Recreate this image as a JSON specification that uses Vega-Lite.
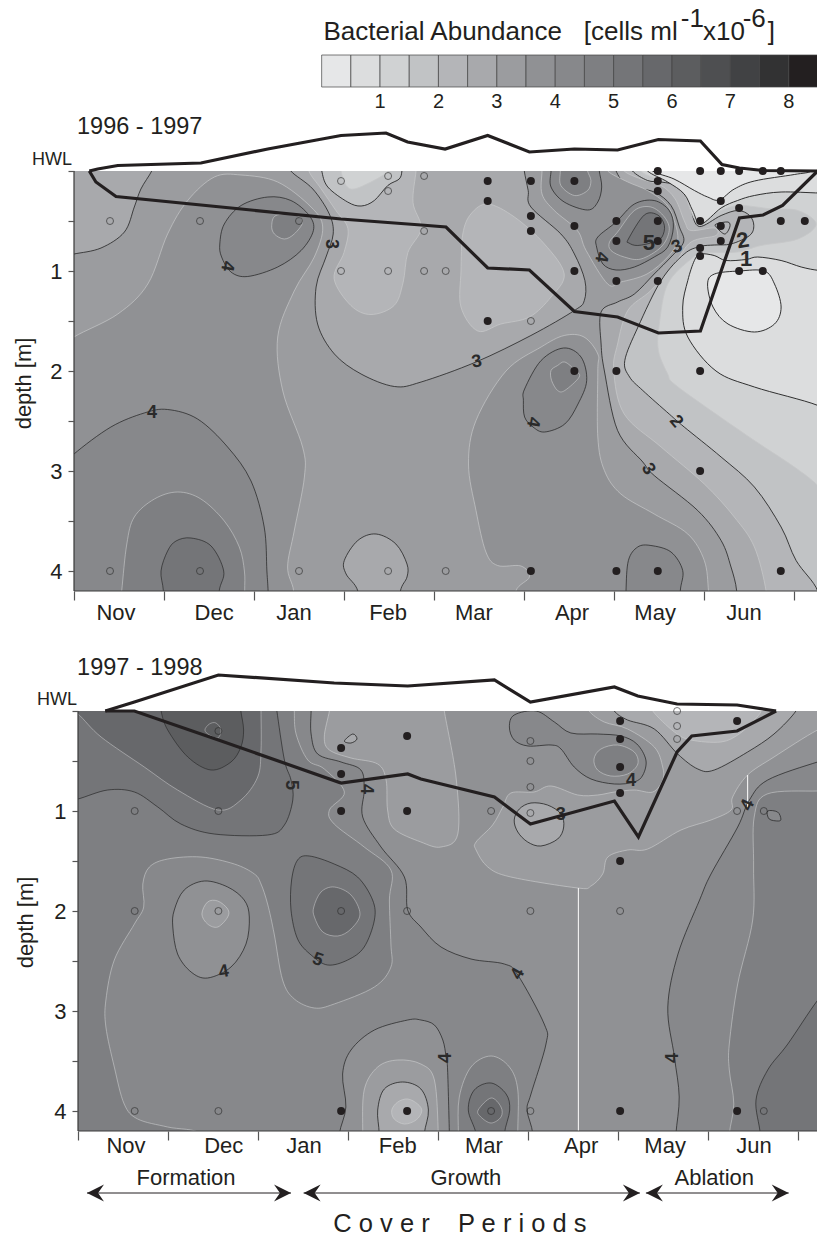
{
"$schema":"https://vega.github.io/schema/vega-lite/v6.json",
"padding":{"left":12,"top":0,"right":0,"bottom":0},
"config":{"view":{"stroke":null},"font":"Liberation Sans","concat":{"spacing":60}},
"bounds":"flush",
"spacing":60,
"datasets":{
"regions":[
{"g":"bg","band":3,"contour":3.5},{"g":"A","band":3.5,"contour":3.5},{"g":"B","band":2.5,"contour":3},{"g":"C","band":4,"contour":4},{"g":"D","band":4.5,"contour":4.5},{"g":"E","band":5,"contour":5},{"g":"F","band":4,"contour":4},{"g":"G","band":4.5,"contour":4.5},{"g":"I","band":2.5,"contour":3},{"g":"L","band":2,"contour":2.5},{"g":"T2","band":1.5,"contour":2},{"g":"T1","band":1,"contour":1.5},{"g":"RL","band":2,"contour":2.5},{"g":"M","band":3.5,"contour":3.5},{"g":"M4","band":4,"contour":4},{"g":"M45","band":4.5,"contour":4.5},{"g":"B4","band":4,"contour":4},{"g":"Fe","band":2.5,"contour":3},{"g":"R3","band":2.5,"contour":3},{"g":"R25","band":2,"contour":2.5},{"g":"R2","band":1.5,"contour":2},{"g":"R15","band":1,"contour":1.5},{"g":"RB","band":0.5,"contour":1},{"g":"RA","band":0,"contour":1},{"g":"R1","band":0.5,"contour":1},{"g":"R05","band":0,"contour":1},{"g":"S","band":2,"contour":2},{"g":"C35","band":3.5,"contour":3.5},{"g":"C4","band":4,"contour":4},{"g":"AT","band":4,"contour":4},{"g":"AT5","band":4.5,"contour":4.5},{"g":"C45","band":4.5,"contour":4.5},{"g":"C5","band":5,"contour":5},
{"g":"bg2","band":4.5,"contour":4.5},{"g":"b","band":5,"contour":5},{"g":"c","band":5.5,"contour":5.5},{"g":"d","band":6,"contour":6},{"g":"e","band":6,"contour":6.5},{"g":"Q1","band":4,"contour":4.5},{"g":"J","band":5,"contour":5},{"g":"J2","band":5.5,"contour":5.5},{"g":"Dc","band":3.5,"contour":4},{"g":"Dc2","band":3,"contour":3.5},{"g":"Q2","band":3.5,"contour":4},{"g":"Q3","band":3,"contour":3.5},{"g":"Q4","band":3,"contour":3.5},{"g":"L4","band":4,"contour":4},{"g":"L45","band":4.5,"contour":4.5},{"g":"t1","band":2.5,"contour":3},{"g":"t2","band":4,"contour":4},{"g":"lp3","band":2.5,"contour":3},{"g":"TR3","band":2.5,"contour":3},{"g":"TR2","band":2,"contour":2.5},{"g":"R5","band":5,"contour":5},{"g":"Fb4","band":3.5,"contour":4},{"g":"Fb35","band":3,"contour":3.5},{"g":"Fb3","band":2.5,"contour":3},{"g":"Fb25","band":2,"contour":2.5},{"g":"Mr45","band":4.5,"contour":4.5},{"g":"Mr5","band":5,"contour":5},{"g":"Mr55","band":5.5,"contour":5.5}
],
"p1":[
{"g":"bg","day":-8,"depth":-1},{"g":"bg","day":258,"depth":-1},{"g":"bg","day":258,"depth":5},{"g":"bg","day":-8,"depth":5},
{"g":"A","day":-5,"depth":1.8},{"g":"A","day":0,"depth":1.66},{"g":"A","day":14.6,"depth":1.43},{"g":"A","day":24.6,"depth":1.13},{"g":"A","day":31.2,"depth":0.63},{"g":"A","day":37.9,"depth":0.295},{"g":"A","day":46.8,"depth":0.06},{"g":"A","day":55.7,"depth":0.04},{"g":"A","day":67.9,"depth":0.11},{"g":"A","day":79,"depth":0.36},{"g":"A","day":82.9,"depth":0.56},{"g":"A","day":80.1,"depth":0.86},{"g":"A","day":73.4,"depth":1.2},{"g":"A","day":67.9,"depth":1.66},{"g":"A","day":69.6,"depth":2.2},{"g":"A","day":76.2,"depth":2.76},{"g":"A","day":76.8,"depth":3.06},{"g":"A","day":73.4,"depth":3.6},{"g":"A","day":71.2,"depth":3.96},{"g":"A","day":73.2,"depth":4.2},{"g":"A","day":73,"depth":4.5},{"g":"A","day":-5,"depth":4.5},
{"g":"B","day":0,"depth":0.83},{"g":"B","day":9,"depth":0.77},{"g":"B","day":16.8,"depth":0.61},{"g":"B","day":20.1,"depth":0.36},{"g":"B","day":22.3,"depth":0.18},{"g":"B","day":25.9,"depth":0},{"g":"B","day":26.8,"depth":-0.1},{"g":"B","day":-5,"depth":-0.1},{"g":"B","day":-5,"depth":0.86},
{"g":"C","day":0,"depth":2.83},{"g":"C","day":12.3,"depth":2.56},{"g":"C","day":23.4,"depth":2.42},{"g":"C","day":31.2,"depth":2.385},{"g":"C","day":41.2,"depth":2.48},{"g":"C","day":51.2,"depth":2.76},{"g":"C","day":59,"depth":3.1},{"g":"C","day":63.4,"depth":3.56},{"g":"C","day":64.3,"depth":4},{"g":"C","day":64.7,"depth":4.2},{"g":"C","day":65,"depth":4.5},{"g":"C","day":-5,"depth":4.5},{"g":"C","day":-5,"depth":3},
{"g":"D","day":15.9,"depth":4.2},{"g":"D","day":17.6,"depth":3.73},{"g":"D","day":20.1,"depth":3.46},{"g":"D","day":26.8,"depth":3.28},{"g":"D","day":34.6,"depth":3.21},{"g":"D","day":42.3,"depth":3.28},{"g":"D","day":50.1,"depth":3.5},{"g":"D","day":55.1,"depth":3.76},{"g":"D","day":56.8,"depth":4},{"g":"D","day":56.9,"depth":4.2},{"g":"D","day":57,"depth":4.5},{"g":"D","day":15,"depth":4.5},
{"g":"E","day":29.8,"depth":4.2},{"g":"E","day":29,"depth":4},{"g":"E","day":31.2,"depth":3.8},{"g":"E","day":34,"depth":3.7},{"g":"E","day":39,"depth":3.67},{"g":"E","day":45.7,"depth":3.75},{"g":"E","day":49.9,"depth":4},{"g":"E","day":48.4,"depth":4.2},{"g":"E","day":48,"depth":4.5},{"g":"E","day":30,"depth":4.5},
{"g":"F","day":48.6,"depth":0.73},{"g":"F","day":50.1,"depth":0.53},{"g":"F","day":55.7,"depth":0.345},{"g":"F","day":64.6,"depth":0.26},{"g":"F","day":72.3,"depth":0.295},{"g":"F","day":78.4,"depth":0.445},{"g":"F","day":79.8,"depth":0.595},{"g":"F","day":75.7,"depth":0.795},{"g":"F","day":67.9,"depth":0.96},{"g":"F","day":57.9,"depth":1.055},{"g":"F","day":52.3,"depth":1.01},{"g":"F","day":49.2,"depth":0.86},
{"g":"G","day":65.9,"depth":0.545},{"g":"G","day":67.3,"depth":0.445},{"g":"G","day":73.4,"depth":0.435},{"g":"G","day":76.2,"depth":0.51},{"g":"G","day":73.4,"depth":0.63},{"g":"G","day":70.1,"depth":0.68},{"g":"G","day":66.8,"depth":0.63},
{"g":"I","day":72.3,"depth":0},{"g":"I","day":72.3,"depth":-0.1},{"g":"I","day":150.1,"depth":-0.1},{"g":"I","day":150.1,"depth":0},{"g":"I","day":151.4,"depth":0.195},{"g":"I","day":152.3,"depth":0.36},{"g":"I","day":162.3,"depth":0.63},{"g":"I","day":166.8,"depth":0.83},{"g":"I","day":170.3,"depth":1.095},{"g":"I","day":170.1,"depth":1.295},{"g":"I","day":166.8,"depth":1.395},{"g":"I","day":152.3,"depth":1.645},{"g":"I","day":134,"depth":1.91},{"g":"I","day":115.7,"depth":2.11},{"g":"I","day":106.8,"depth":2.155},{"g":"I","day":95.7,"depth":2.03},{"g":"I","day":86.8,"depth":1.83},{"g":"I","day":81.2,"depth":1.53},{"g":"I","day":80.7,"depth":1.16},{"g":"I","day":84,"depth":0.86},{"g":"I","day":86.4,"depth":0.63},{"g":"I","day":85.1,"depth":0.43},{"g":"I","day":79.6,"depth":0.18},
{"g":"L","day":78.3,"depth":0},{"g":"L","day":82.3,"depth":0.175},{"g":"L","day":87.3,"depth":0.395},{"g":"L","day":91.3,"depth":0.575},{"g":"L","day":90,"depth":0.815},{"g":"L","day":86.7,"depth":1.075},{"g":"L","day":92.3,"depth":1.345},{"g":"L","day":99,"depth":1.435},{"g":"L","day":106.7,"depth":1.345},{"g":"L","day":109.7,"depth":1.115},{"g":"L","day":111.3,"depth":0.815},{"g":"L","day":115.7,"depth":0.575},{"g":"L","day":113,"depth":0.315},{"g":"L","day":114,"depth":0},{"g":"L","day":114,"depth":-0.15},{"g":"L","day":78.3,"depth":-0.15},
{"g":"T2","day":82.6,"depth":0},{"g":"T2","day":84.6,"depth":0.16},{"g":"T2","day":91.2,"depth":0.31},{"g":"T2","day":95.7,"depth":0.35},{"g":"T2","day":100.1,"depth":0.295},{"g":"T2","day":104.6,"depth":0.145},{"g":"T2","day":108.4,"depth":0.08},{"g":"T2","day":109.3,"depth":0},{"g":"T2","day":109.3,"depth":-0.1},{"g":"T2","day":82.6,"depth":-0.1},
{"g":"T1","day":89,"depth":0},{"g":"T1","day":90.7,"depth":0.145},{"g":"T1","day":93.4,"depth":0.18},{"g":"T1","day":99,"depth":0.11},{"g":"T1","day":103.4,"depth":0.035},{"g":"T1","day":104.6,"depth":0},{"g":"T1","day":104.6,"depth":-0.1},{"g":"T1","day":89,"depth":-0.1},
{"g":"RL","day":129.6,"depth":0.63},{"g":"RL","day":132.3,"depth":0.43},{"g":"RL","day":137.9,"depth":0.33},{"g":"RL","day":146.8,"depth":0.46},{"g":"RL","day":156.8,"depth":0.73},{"g":"RL","day":163.4,"depth":1.03},{"g":"RL","day":159,"depth":1.26},{"g":"RL","day":151.8,"depth":1.46},{"g":"RL","day":142.3,"depth":1.53},{"g":"RL","day":134.6,"depth":1.6},{"g":"RL","day":129,"depth":1.36},{"g":"RL","day":129,"depth":1},
{"g":"M","day":147.3,"depth":4.2},{"g":"M","day":151.8,"depth":4.06},{"g":"M","day":149,"depth":3.95},{"g":"M","day":141.2,"depth":3.945},{"g":"M","day":137.3,"depth":3.81},{"g":"M","day":134,"depth":3.395},{"g":"M","day":131.5,"depth":2.93},{"g":"M","day":134,"depth":2.495},{"g":"M","day":144,"depth":2},{"g":"M","day":155.7,"depth":1.76},{"g":"M","day":163.4,"depth":1.645},{"g":"M","day":170,"depth":1.66},{"g":"M","day":174.6,"depth":1.83},{"g":"M","day":174.6,"depth":2},{"g":"M","day":174.6,"depth":2.66},{"g":"M","day":176.8,"depth":2.995},{"g":"M","day":182.3,"depth":3.23},{"g":"M","day":193.4,"depth":3.43},{"g":"M","day":204.6,"depth":3.63},{"g":"M","day":210.1,"depth":3.895},{"g":"M","day":211.5,"depth":4.2},{"g":"M","day":212,"depth":4.5},{"g":"M","day":147,"depth":4.5},
{"g":"M4","day":150.2,"depth":2.18},{"g":"M4","day":155.7,"depth":1.895},{"g":"M4","day":163.2,"depth":1.77},{"g":"M4","day":169,"depth":1.86},{"g":"M4","day":170.9,"depth":2.095},{"g":"M4","day":168,"depth":2.33},{"g":"M4","day":163.6,"depth":2.53},{"g":"M4","day":156.9,"depth":2.61},{"g":"M4","day":153,"depth":2.56},{"g":"M4","day":150.2,"depth":2.46},{"g":"M4","day":149.8,"depth":2.295},
{"g":"M45","day":159,"depth":1.995},{"g":"M45","day":161.2,"depth":1.945},{"g":"M45","day":163.6,"depth":1.91},{"g":"M45","day":167.1,"depth":1.995},{"g":"M45","day":168.4,"depth":2.06},{"g":"M45","day":163.6,"depth":2.195},{"g":"M45","day":161.2,"depth":2.195},{"g":"M45","day":159.2,"depth":2.095},
{"g":"B4","day":184,"depth":4.2},{"g":"B4","day":184.8,"depth":3.895},{"g":"B4","day":187.9,"depth":3.76},{"g":"B4","day":192.3,"depth":3.745},{"g":"B4","day":199,"depth":3.81},{"g":"B4","day":202.9,"depth":3.995},{"g":"B4","day":202.1,"depth":4.2},{"g":"B4","day":202,"depth":4.5},{"g":"B4","day":184,"depth":4.5},
{"g":"Fe","day":94.6,"depth":4.2},{"g":"Fe","day":90.7,"depth":4.03},{"g":"Fe","day":90.1,"depth":3.895},{"g":"Fe","day":94.6,"depth":3.695},{"g":"Fe","day":100.7,"depth":3.63},{"g":"Fe","day":107.3,"depth":3.73},{"g":"Fe","day":111,"depth":3.93},{"g":"Fe","day":111,"depth":4.06},{"g":"Fe","day":108.8,"depth":4.2},{"g":"Fe","day":108,"depth":4.5},{"g":"Fe","day":95,"depth":4.5},
{"g":"R3","day":180.7,"depth":0},{"g":"R3","day":184.6,"depth":0.145},{"g":"R3","day":193.4,"depth":0.21},{"g":"R3","day":199,"depth":0.345},{"g":"R3","day":201.8,"depth":0.56},{"g":"R3","day":203.2,"depth":0.71},{"g":"R3","day":199,"depth":0.86},{"g":"R3","day":193.4,"depth":1.03},{"g":"R3","day":186.8,"depth":1.23},{"g":"R3","day":181.2,"depth":1.31},{"g":"R3","day":175.7,"depth":1.41},{"g":"R3","day":175.7,"depth":1.73},{"g":"R3","day":176.8,"depth":2},{"g":"R3","day":181.2,"depth":2.595},{"g":"R3","day":189.6,"depth":2.91},{"g":"R3","day":193.4,"depth":3.045},{"g":"R3","day":207.9,"depth":3.395},{"g":"R3","day":215.7,"depth":3.695},{"g":"R3","day":219,"depth":3.96},{"g":"R3","day":220.9,"depth":4.2},{"g":"R3","day":221,"depth":4.5},{"g":"R3","day":255,"depth":4.5},{"g":"R3","day":255,"depth":-0.1},{"g":"R3","day":181,"depth":-0.1},
{"g":"R25","day":183.4,"depth":0},{"g":"R25","day":189,"depth":0.08},{"g":"R25","day":195.7,"depth":0.145},{"g":"R25","day":200.4,"depth":0.28},{"g":"R25","day":203.6,"depth":0.51},{"g":"R25","day":205.7,"depth":0.595},{"g":"R25","day":213.4,"depth":0.57},{"g":"R25","day":214,"depth":0.645},{"g":"R25","day":205.7,"depth":0.71},{"g":"R25","day":200.1,"depth":0.93},{"g":"R25","day":192.3,"depth":1.195},{"g":"R25","day":184.6,"depth":1.395},{"g":"R25","day":181.2,"depth":1.73},{"g":"R25","day":179.9,"depth":2},{"g":"R25","day":183.4,"depth":2.43},{"g":"R25","day":195.7,"depth":2.76},{"g":"R25","day":210.1,"depth":3.13},{"g":"R25","day":220.1,"depth":3.46},{"g":"R25","day":226.8,"depth":3.76},{"g":"R25","day":230.7,"depth":4.2},{"g":"R25","day":231,"depth":4.5},{"g":"R25","day":255,"depth":4.5},{"g":"R25","day":255,"depth":-0.1},{"g":"R25","day":183,"depth":-0.1},
{"g":"R2","day":186.2,"depth":0},{"g":"R2","day":191.2,"depth":0.095},{"g":"R2","day":195.7,"depth":0.11},{"g":"R2","day":201.3,"depth":0.145},{"g":"R2","day":204.6,"depth":0.245},{"g":"R2","day":205.7,"depth":0.395},{"g":"R2","day":208.4,"depth":0.555},{"g":"R2","day":215.7,"depth":0.445},{"g":"R2","day":221.3,"depth":0.395},{"g":"R2","day":225.2,"depth":0.445},{"g":"R2","day":226.6,"depth":0.545},{"g":"R2","day":225.2,"depth":0.645},{"g":"R2","day":219,"depth":0.73},{"g":"R2","day":213.4,"depth":0.74},{"g":"R2","day":208.8,"depth":0.755},{"g":"R2","day":203.4,"depth":0.83},{"g":"R2","day":195.7,"depth":1.095},{"g":"R2","day":188,"depth":1.56},{"g":"R2","day":183.6,"depth":1.895},{"g":"R2","day":185.2,"depth":2.06},{"g":"R2","day":189.6,"depth":2.195},{"g":"R2","day":198.4,"depth":2.43},{"g":"R2","day":203.4,"depth":2.56},{"g":"R2","day":215.7,"depth":2.86},{"g":"R2","day":226.8,"depth":3.16},{"g":"R2","day":235.7,"depth":3.56},{"g":"R2","day":240.7,"depth":3.895},{"g":"R2","day":247.9,"depth":4.2},{"g":"R2","day":248,"depth":4.5},{"g":"R2","day":255,"depth":4.5},{"g":"R2","day":255,"depth":-0.1},{"g":"R2","day":186,"depth":-0.1},
{"g":"R15","day":188.9,"depth":0},{"g":"R15","day":194.4,"depth":0.08},{"g":"R15","day":199,"depth":0.1},{"g":"R15","day":203.4,"depth":0.23},{"g":"R15","day":206,"depth":0.43},{"g":"R15","day":207.3,"depth":0.49},{"g":"R15","day":209.6,"depth":0.495},{"g":"R15","day":215.7,"depth":0.395},{"g":"R15","day":222,"depth":0.345},{"g":"R15","day":232.6,"depth":0.38},{"g":"R15","day":241.3,"depth":0.395},{"g":"R15","day":247.4,"depth":0.53},{"g":"R15","day":241.3,"depth":0.68},{"g":"R15","day":229,"depth":0.745},{"g":"R15","day":221.2,"depth":0.81},{"g":"R15","day":210.1,"depth":0.82},{"g":"R15","day":205.7,"depth":0.88},{"g":"R15","day":197.9,"depth":1.13},{"g":"R15","day":195.1,"depth":1.53},{"g":"R15","day":194.8,"depth":1.795},{"g":"R15","day":197.9,"depth":2.03},{"g":"R15","day":200.1,"depth":2.13},{"g":"R15","day":212.3,"depth":2.395},{"g":"R15","day":226.8,"depth":2.695},{"g":"R15","day":240.1,"depth":2.96},{"g":"R15","day":247.9,"depth":3.145},{"g":"R15","day":255,"depth":3.4},{"g":"R15","day":255,"depth":-0.1},{"g":"R15","day":189,"depth":-0.1},
{"g":"RB","day":191.2,"depth":0},{"g":"RB","day":197.9,"depth":0.11},{"g":"RB","day":203.4,"depth":0.23},{"g":"RB","day":206.2,"depth":0.395},{"g":"RB","day":209,"depth":0.53},{"g":"RB","day":215.7,"depth":0.37},{"g":"RB","day":221.2,"depth":0.295},{"g":"RB","day":226.8,"depth":0.245},{"g":"RB","day":235.7,"depth":0.21},{"g":"RB","day":248.5,"depth":0.22},{"g":"RB","day":255,"depth":0.22},{"g":"RB","day":255,"depth":-0.1},{"g":"RB","day":191,"depth":-0.1},
{"g":"RA","day":192.9,"depth":0},{"g":"RA","day":200,"depth":0.08},{"g":"RA","day":206.8,"depth":0.195},{"g":"RA","day":211.2,"depth":0.26},{"g":"RA","day":215.1,"depth":0.29},{"g":"RA","day":220.1,"depth":0.18},{"g":"RA","day":226.8,"depth":0.1},{"g":"RA","day":240.1,"depth":0.035},{"g":"RA","day":245.7,"depth":0},{"g":"RA","day":245.7,"depth":-0.1},{"g":"RA","day":192.3,"depth":-0.1},
{"g":"R1","day":208.8,"depth":0.83},{"g":"R1","day":213.4,"depth":0.845},{"g":"R1","day":217.3,"depth":0.895},{"g":"R1","day":224,"depth":0.885},{"g":"R1","day":227.9,"depth":0.86},{"g":"R1","day":235.7,"depth":0.895},{"g":"R1","day":242.4,"depth":0.96},{"g":"R1","day":248.5,"depth":0.995},{"g":"R1","day":255,"depth":1},{"g":"R1","day":255,"depth":2.5},{"g":"R1","day":248,"depth":2.345},{"g":"R1","day":226.8,"depth":2.16},{"g":"R1","day":214,"depth":2},{"g":"R1","day":204.6,"depth":1.66},{"g":"R1","day":202.9,"depth":1.36},{"g":"R1","day":204.6,"depth":1.095},{"g":"R1","day":206.8,"depth":0.895},
{"g":"R05","day":213.5,"depth":1.03},{"g":"R05","day":211.2,"depth":1.13},{"g":"R05","day":213,"depth":1.36},{"g":"R05","day":218,"depth":1.53},{"g":"R05","day":226.8,"depth":1.61},{"g":"R05","day":233.5,"depth":1.53},{"g":"R05","day":235.7,"depth":1.36},{"g":"R05","day":233.5,"depth":1.13},{"g":"R05","day":230.1,"depth":1},{"g":"R05","day":221.8,"depth":1},
{"g":"S","day":214.1,"depth":0.53},{"g":"S","day":218,"depth":0.51},{"g":"S","day":218.6,"depth":0.56},{"g":"S","day":216.9,"depth":0.63},{"g":"S","day":214.1,"depth":0.56},
{"g":"C35","day":156,"depth":0},{"g":"C35","day":156,"depth":0.23},{"g":"C35","day":160.1,"depth":0.395},{"g":"C35","day":167.8,"depth":0.595},{"g":"C35","day":170.7,"depth":0.795},{"g":"C35","day":177.9,"depth":1.13},{"g":"C35","day":182.3,"depth":1.11},{"g":"C35","day":191,"depth":1.03},{"g":"C35","day":197.9,"depth":0.86},{"g":"C35","day":201.2,"depth":0.695},{"g":"C35","day":200.1,"depth":0.495},{"g":"C35","day":197.4,"depth":0.33},{"g":"C35","day":191.2,"depth":0.195},{"g":"C35","day":184.6,"depth":0.11},{"g":"C35","day":177.9,"depth":0},{"g":"C35","day":177.9,"depth":-0.1},{"g":"C35","day":156,"depth":-0.1},
{"g":"AT","day":159,"depth":0},{"g":"AT","day":159,"depth":0.16},{"g":"AT","day":163.4,"depth":0.31},{"g":"AT","day":171.2,"depth":0.39},{"g":"AT","day":174.6,"depth":0.31},{"g":"AT","day":175.9,"depth":0.16},{"g":"AT","day":175.1,"depth":0},{"g":"AT","day":175,"depth":-0.1},{"g":"AT","day":159,"depth":-0.1},
{"g":"AT5","day":162.1,"depth":0},{"g":"AT5","day":162.3,"depth":0.145},{"g":"AT5","day":166.8,"depth":0.245},{"g":"AT5","day":171.2,"depth":0.195},{"g":"AT5","day":172.3,"depth":0.095},{"g":"AT5","day":171.2,"depth":0},{"g":"AT5","day":171,"depth":-0.1},{"g":"AT5","day":162,"depth":-0.1},
{"g":"C4","day":174.2,"depth":0.76},{"g":"C4","day":174.6,"depth":0.66},{"g":"C4","day":180.7,"depth":0.51},{"g":"C4","day":186.8,"depth":0.33},{"g":"C4","day":193.4,"depth":0.295},{"g":"C4","day":198.4,"depth":0.395},{"g":"C4","day":199.8,"depth":0.56},{"g":"C4","day":197.9,"depth":0.76},{"g":"C4","day":193.4,"depth":0.86},{"g":"C4","day":186.8,"depth":0.96},{"g":"C4","day":180.7,"depth":0.99},{"g":"C4","day":176.3,"depth":0.93},
{"g":"C45","day":178.5,"depth":0.71},{"g":"C45","day":181.2,"depth":0.61},{"g":"C45","day":186.8,"depth":0.395},{"g":"C45","day":192.3,"depth":0.36},{"g":"C45","day":196.8,"depth":0.46},{"g":"C45","day":198.4,"depth":0.595},{"g":"C45","day":195.7,"depth":0.76},{"g":"C45","day":189,"depth":0.88},{"g":"C45","day":183.4,"depth":0.86},{"g":"C45","day":179,"depth":0.795},
{"g":"C5","day":184.8,"depth":0.68},{"g":"C5","day":190.1,"depth":0.44},{"g":"C5","day":194.6,"depth":0.44},{"g":"C5","day":196.8,"depth":0.545},{"g":"C5","day":196,"depth":0.66},{"g":"C5","day":193.4,"depth":0.71},{"g":"C5","day":187.9,"depth":0.745},{"g":"C5","day":185,"depth":0.72}
],
"p2":[
{"g":"bg2","day":-8,"depth":-1},{"g":"bg2","day":258,"depth":-1},{"g":"bg2","day":258,"depth":5},{"g":"bg2","day":-8,"depth":5},
{"g":"b","day":0,"depth":0.88},{"g":"b","day":9.9,"depth":0.79},{"g":"b","day":18.8,"depth":0.81},{"g":"b","day":26.6,"depth":0.96},{"g":"b","day":34.3,"depth":1.13},{"g":"b","day":45.4,"depth":1.23},{"g":"b","day":63.2,"depth":1.24},{"g":"b","day":68.8,"depth":1.14},{"g":"b","day":71.6,"depth":0.89},{"g":"b","day":71,"depth":0.69},{"g":"b","day":68.8,"depth":0.49},{"g":"b","day":66.3,"depth":0},{"g":"b","day":66,"depth":-0.1},{"g":"b","day":-5,"depth":-0.1},{"g":"b","day":-5,"depth":0.9},
{"g":"c","day":0,"depth":0.03},{"g":"c","day":7.7,"depth":0.26},{"g":"c","day":22.1,"depth":0.56},{"g":"c","day":33.2,"depth":0.79},{"g":"c","day":46.6,"depth":0.99},{"g":"c","day":54.3,"depth":0.89},{"g":"c","day":59.9,"depth":0.66},{"g":"c","day":61,"depth":0.39},{"g":"c","day":61,"depth":0},{"g":"c","day":61,"depth":-0.1},{"g":"c","day":-5,"depth":-0.1},{"g":"c","day":-5,"depth":-0.05},
{"g":"d","day":27.7,"depth":0},{"g":"d","day":29.9,"depth":0.19},{"g":"d","day":36.6,"depth":0.46},{"g":"d","day":44.3,"depth":0.59},{"g":"d","day":51,"depth":0.51},{"g":"d","day":54.3,"depth":0.36},{"g":"d","day":55.2,"depth":0.19},{"g":"d","day":54.3,"depth":0},{"g":"d","day":54.3,"depth":-0.1},{"g":"d","day":27.7,"depth":-0.1},
{"g":"e","day":42.3,"depth":0.19},{"g":"e","day":43.8,"depth":0.13},{"g":"e","day":46,"depth":0.12},{"g":"e","day":47.7,"depth":0.19},{"g":"e","day":46.6,"depth":0.27},{"g":"e","day":43.8,"depth":0.24},
{"g":"Q1","day":41,"depth":4.23},{"g":"Q1","day":29.9,"depth":4.16},{"g":"Q1","day":19.9,"depth":4.08},{"g":"Q1","day":15.4,"depth":3.93},{"g":"Q1","day":12.1,"depth":3.56},{"g":"Q1","day":9.3,"depth":3.16},{"g":"Q1","day":9.3,"depth":2.89},{"g":"Q1","day":12.1,"depth":2.49},{"g":"Q1","day":18.8,"depth":2.13},{"g":"Q1","day":21.9,"depth":1.96},{"g":"Q1","day":21.6,"depth":1.73},{"g":"Q1","day":23.8,"depth":1.56},{"g":"Q1","day":29.9,"depth":1.48},{"g":"Q1","day":41,"depth":1.46},{"g":"Q1","day":52.1,"depth":1.53},{"g":"Q1","day":58.8,"depth":1.63},{"g":"Q1","day":61,"depth":1.73},{"g":"Q1","day":63.2,"depth":1.93},{"g":"Q1","day":65.4,"depth":2.23},{"g":"Q1","day":68.2,"depth":2.69},{"g":"Q1","day":72.1,"depth":2.88},{"g":"Q1","day":78.8,"depth":2.97},{"g":"Q1","day":85.4,"depth":2.93},{"g":"Q1","day":98.8,"depth":2.76},{"g":"Q1","day":104.3,"depth":2.56},{"g":"Q1","day":104.3,"depth":2.33},{"g":"Q1","day":103.8,"depth":1.89},{"g":"Q1","day":104.3,"depth":1.59},{"g":"Q1","day":95.4,"depth":1.36},{"g":"Q1","day":85.4,"depth":1.13},{"g":"Q1","day":83.8,"depth":0.99},{"g":"Q1","day":88.8,"depth":0.81},{"g":"Q1","day":82.1,"depth":0.58},{"g":"Q1","day":76.6,"depth":0.49},{"g":"Q1","day":72.7,"depth":0.23},{"g":"Q1","day":72.1,"depth":0},{"g":"Q1","day":72.1,"depth":-0.1},{"g":"Q1","day":255,"depth":-0.1},{"g":"Q1","day":255,"depth":0.8},{"g":"Q1","day":246.5,"depth":0.8},{"g":"Q1","day":229.7,"depth":0.83},{"g":"Q1","day":225.4,"depth":1.06},{"g":"Q1","day":225.2,"depth":1.56},{"g":"Q1","day":224.9,"depth":2.09},{"g":"Q1","day":219.9,"depth":2.73},{"g":"Q1","day":217.1,"depth":3.33},{"g":"Q1","day":217.1,"depth":3.59},{"g":"Q1","day":218.6,"depth":3.93},{"g":"Q1","day":217.1,"depth":4.23},{"g":"Q1","day":217,"depth":4.5},{"g":"Q1","day":41,"depth":4.5},
{"g":"J","day":71,"depth":1.99},{"g":"J","day":71.2,"depth":1.69},{"g":"J","day":73.2,"depth":1.49},{"g":"J","day":77.1,"depth":1.45},{"g":"J","day":85.4,"depth":1.53},{"g":"J","day":93.2,"depth":1.66},{"g":"J","day":98.2,"depth":1.89},{"g":"J","day":98.8,"depth":2.09},{"g":"J","day":95.4,"depth":2.36},{"g":"J","day":89.9,"depth":2.49},{"g":"J","day":83.2,"depth":2.54},{"g":"J","day":77.7,"depth":2.44},{"g":"J","day":73.2,"depth":2.28},
{"g":"J2","day":78.6,"depth":1.96},{"g":"J2","day":81,"depth":1.81},{"g":"J2","day":85.4,"depth":1.76},{"g":"J2","day":91,"depth":1.84},{"g":"J2","day":94,"depth":2.03},{"g":"J2","day":91,"depth":2.18},{"g":"J2","day":86.6,"depth":2.25},{"g":"J2","day":81.6,"depth":2.21},{"g":"J2","day":78.8,"depth":2.06},
{"g":"Dc","day":32.1,"depth":1.99},{"g":"Dc","day":35.4,"depth":1.79},{"g":"Dc","day":42.1,"depth":1.7},{"g":"Dc","day":49.9,"depth":1.76},{"g":"Dc","day":55.4,"depth":1.89},{"g":"Dc","day":57.1,"depth":2.06},{"g":"Dc","day":56,"depth":2.33},{"g":"Dc","day":51,"depth":2.56},{"g":"Dc","day":43.2,"depth":2.67},{"g":"Dc","day":37.7,"depth":2.61},{"g":"Dc","day":33.2,"depth":2.43},{"g":"Dc","day":31.6,"depth":2.16},
{"g":"Dc2","day":41.3,"depth":2.03},{"g":"Dc2","day":43.2,"depth":1.91},{"g":"Dc2","day":46.6,"depth":1.9},{"g":"Dc2","day":49.9,"depth":1.98},{"g":"Dc2","day":49.9,"depth":2.06},{"g":"Dc2","day":46.6,"depth":2.16},{"g":"Dc2","day":43.2,"depth":2.13},
{"g":"Q2","day":77.7,"depth":0},{"g":"Q2","day":77.7,"depth":0.23},{"g":"Q2","day":79.9,"depth":0.43},{"g":"Q2","day":87.7,"depth":0.51},{"g":"Q2","day":94.3,"depth":0.59},{"g":"Q2","day":95.4,"depth":0.79},{"g":"Q2","day":94.9,"depth":1.06},{"g":"Q2","day":101,"depth":1.36},{"g":"Q2","day":108.8,"depth":1.66},{"g":"Q2","day":109.9,"depth":1.99},{"g":"Q2","day":114.3,"depth":2.16},{"g":"Q2","day":121,"depth":2.36},{"g":"Q2","day":131,"depth":2.48},{"g":"Q2","day":142.1,"depth":2.53},{"g":"Q2","day":146.6,"depth":2.64},{"g":"Q2","day":155.4,"depth":3.13},{"g":"Q2","day":156,"depth":3.33},{"g":"Q2","day":151,"depth":3.83},{"g":"Q2","day":149.7,"depth":3.99},{"g":"Q2","day":151.6,"depth":4.23},{"g":"Q2","day":151,"depth":4.5},{"g":"Q2","day":199,"depth":4.5},{"g":"Q2","day":199.3,"depth":4.23},{"g":"Q2","day":200.4,"depth":3.86},{"g":"Q2","day":198.8,"depth":3.46},{"g":"Q2","day":196.6,"depth":2.96},{"g":"Q2","day":200,"depth":2.43},{"g":"Q2","day":207.2,"depth":1.89},{"g":"Q2","day":211,"depth":1.63},{"g":"Q2","day":219.9,"depth":1.16},{"g":"Q2","day":223.8,"depth":0.89},{"g":"Q2","day":229.9,"depth":0.69},{"g":"Q2","day":246.5,"depth":0.51},{"g":"Q2","day":255,"depth":0.45},{"g":"Q2","day":255,"depth":-0.1},{"g":"Q2","day":77.7,"depth":-0.1},
{"g":"Q3","day":83.8,"depth":0},{"g":"Q3","day":82.1,"depth":0.26},{"g":"Q3","day":83.8,"depth":0.39},{"g":"Q3","day":91,"depth":0.47},{"g":"Q3","day":99.9,"depth":0.53},{"g":"Q3","day":102.7,"depth":0.69},{"g":"Q3","day":103.2,"depth":0.99},{"g":"Q3","day":105.4,"depth":1.18},{"g":"Q3","day":114.3,"depth":1.31},{"g":"Q3","day":121,"depth":1.36},{"g":"Q3","day":126.6,"depth":1.23},{"g":"Q3","day":126,"depth":0.66},{"g":"Q3","day":122.1,"depth":0},{"g":"Q3","day":122,"depth":-0.1},{"g":"Q3","day":84,"depth":-0.1},
{"g":"Q4","day":170.4,"depth":0},{"g":"Q4","day":175.4,"depth":0.11},{"g":"Q4","day":183.2,"depth":0.18},{"g":"Q4","day":192.1,"depth":0.36},{"g":"Q4","day":194.9,"depth":0.56},{"g":"Q4","day":194.9,"depth":0.69},{"g":"Q4","day":191.6,"depth":0.81},{"g":"Q4","day":185.4,"depth":0.79},{"g":"Q4","day":178.8,"depth":0.81},{"g":"Q4","day":173.2,"depth":0.84},{"g":"Q4","day":166.6,"depth":0.84},{"g":"Q4","day":157.7,"depth":0.75},{"g":"Q4","day":152,"depth":0.81},{"g":"Q4","day":144.3,"depth":0.82},{"g":"Q4","day":141.6,"depth":0.96},{"g":"Q4","day":138.2,"depth":1.14},{"g":"Q4","day":132.7,"depth":1.31},{"g":"Q4","day":132.7,"depth":1.39},{"g":"Q4","day":136.6,"depth":1.56},{"g":"Q4","day":144.3,"depth":1.66},{"g":"Q4","day":166.6,"depth":1.77},{"g":"Q4","day":171,"depth":1.75},{"g":"Q4","day":174.9,"depth":1.63},{"g":"Q4","day":176.6,"depth":1.46},{"g":"Q4","day":183.2,"depth":1.39},{"g":"Q4","day":189.9,"depth":1.38},{"g":"Q4","day":201,"depth":1.19},{"g":"Q4","day":211,"depth":1.09},{"g":"Q4","day":217.7,"depth":0.99},{"g":"Q4","day":218.2,"depth":0.86},{"g":"Q4","day":223.2,"depth":0.64},{"g":"Q4","day":232,"depth":0.46},{"g":"Q4","day":246.5,"depth":0.19},{"g":"Q4","day":255,"depth":0.1},{"g":"Q4","day":255,"depth":-0.1},{"g":"Q4","day":170.4,"depth":-0.1},
{"g":"L4","day":143.8,"depth":0.16},{"g":"L4","day":145.4,"depth":0.04},{"g":"L4","day":152.7,"depth":0},{"g":"L4","day":158.8,"depth":0.11},{"g":"L4","day":164.3,"depth":0.22},{"g":"L4","day":173.2,"depth":0.23},{"g":"L4","day":181,"depth":0.25},{"g":"L4","day":186.3,"depth":0.33},{"g":"L4","day":189.3,"depth":0.49},{"g":"L4","day":188.3,"depth":0.64},{"g":"L4","day":185.4,"depth":0.71},{"g":"L4","day":178.8,"depth":0.73},{"g":"L4","day":171,"depth":0.68},{"g":"L4","day":165.4,"depth":0.56},{"g":"L4","day":161,"depth":0.38},{"g":"L4","day":157.7,"depth":0.34},{"g":"L4","day":150,"depth":0.35},{"g":"L4","day":145.4,"depth":0.29},
{"g":"L45","day":172,"depth":0.48},{"g":"L45","day":174.3,"depth":0.38},{"g":"L45","day":179.9,"depth":0.34},{"g":"L45","day":185.4,"depth":0.41},{"g":"L45","day":186.6,"depth":0.53},{"g":"L45","day":183.2,"depth":0.63},{"g":"L45","day":177.6,"depth":0.65},{"g":"L45","day":173.2,"depth":0.59},
{"g":"t1","day":88.8,"depth":0.3},{"g":"t1","day":91.6,"depth":0.23},{"g":"t1","day":93,"depth":0.28},{"g":"t1","day":91,"depth":0.32},
{"g":"t2","day":229.9,"depth":1},{"g":"t2","day":233.2,"depth":1.01},{"g":"t2","day":234.3,"depth":1.08},{"g":"t2","day":233.4,"depth":1.1},{"g":"t2","day":230.4,"depth":1.08},
{"g":"lp3","day":145.4,"depth":1.09},{"g":"lp3","day":147.1,"depth":0.98},{"g":"lp3","day":151,"depth":0.92},{"g":"lp3","day":156.5,"depth":0.94},{"g":"lp3","day":161,"depth":1.03},{"g":"lp3","day":161.9,"depth":1.16},{"g":"lp3","day":159.9,"depth":1.28},{"g":"lp3","day":154.3,"depth":1.35},{"g":"lp3","day":149.9,"depth":1.31},{"g":"lp3","day":146.6,"depth":1.21},
{"g":"TR3","day":178.8,"depth":0},{"g":"TR3","day":183.2,"depth":0.09},{"g":"TR3","day":192.1,"depth":0.18},{"g":"TR3","day":199.9,"depth":0.43},{"g":"TR3","day":206.6,"depth":0.58},{"g":"TR3","day":212.1,"depth":0.59},{"g":"TR3","day":223.2,"depth":0.41},{"g":"TR3","day":232,"depth":0.23},{"g":"TR3","day":239.3,"depth":0},{"g":"TR3","day":239.3,"depth":-0.1},{"g":"TR3","day":178.8,"depth":-0.1},
{"g":"TR2","day":191.6,"depth":0},{"g":"TR2","day":198.8,"depth":0.21},{"g":"TR2","day":204.3,"depth":0.29},{"g":"TR2","day":214.3,"depth":0.31},{"g":"TR2","day":220.4,"depth":0.23},{"g":"TR2","day":225.4,"depth":0.09},{"g":"TR2","day":227.7,"depth":0},{"g":"TR2","day":227.7,"depth":-0.1},{"g":"TR2","day":191.6,"depth":-0.1},
{"g":"R5","day":246.6,"depth":2.89},{"g":"R5","day":236.6,"depth":3.33},{"g":"R5","day":229.9,"depth":3.59},{"g":"R5","day":226,"depth":3.89},{"g":"R5","day":227.4,"depth":4.23},{"g":"R5","day":227,"depth":4.5},{"g":"R5","day":255,"depth":4.5},{"g":"R5","day":255,"depth":2.6},
{"g":"Fb4","day":87.1,"depth":4.23},{"g":"Fb4","day":89.3,"depth":3.96},{"g":"Fb4","day":88.2,"depth":3.63},{"g":"Fb4","day":91,"depth":3.39},{"g":"Fb4","day":98.8,"depth":3.19},{"g":"Fb4","day":109.9,"depth":3.09},{"g":"Fb4","day":114.3,"depth":3.09},{"g":"Fb4","day":118.8,"depth":3.14},{"g":"Fb4","day":121.6,"depth":3.29},{"g":"Fb4","day":122.7,"depth":3.46},{"g":"Fb4","day":123.2,"depth":3.59},{"g":"Fb4","day":123.8,"depth":4.23},{"g":"Fb4","day":124,"depth":4.5},{"g":"Fb4","day":87,"depth":4.5},
{"g":"Fb35","day":94.9,"depth":4.23},{"g":"Fb35","day":95.4,"depth":3.79},{"g":"Fb35","day":99.9,"depth":3.56},{"g":"Fb35","day":106.6,"depth":3.49},{"g":"Fb35","day":114.3,"depth":3.53},{"g":"Fb35","day":118.8,"depth":3.69},{"g":"Fb35","day":120.1,"depth":4.23},{"g":"Fb35","day":120,"depth":4.5},{"g":"Fb35","day":95,"depth":4.5},
{"g":"Fb3","day":100.4,"depth":4.23},{"g":"Fb3","day":99.9,"depth":3.99},{"g":"Fb3","day":102.1,"depth":3.78},{"g":"Fb3","day":108.2,"depth":3.71},{"g":"Fb3","day":114.3,"depth":3.78},{"g":"Fb3","day":116.8,"depth":3.99},{"g":"Fb3","day":115.4,"depth":4.23},{"g":"Fb3","day":115,"depth":4.5},{"g":"Fb3","day":100,"depth":4.5},
{"g":"Fb25","day":104.6,"depth":3.99},{"g":"Fb25","day":106.6,"depth":3.91},{"g":"Fb25","day":109.9,"depth":3.88},{"g":"Fb25","day":113.2,"depth":3.93},{"g":"Fb25","day":114.6,"depth":4},{"g":"Fb25","day":112.7,"depth":4.09},{"g":"Fb25","day":108.8,"depth":4.13},{"g":"Fb25","day":105.4,"depth":4.08},
{"g":"Mr45","day":126.8,"depth":4.23},{"g":"Mr45","day":127.1,"depth":3.86},{"g":"Mr45","day":131,"depth":3.56},{"g":"Mr45","day":137.7,"depth":3.45},{"g":"Mr45","day":143.8,"depth":3.56},{"g":"Mr45","day":146.6,"depth":3.79},{"g":"Mr45","day":146.6,"depth":4.23},{"g":"Mr45","day":147,"depth":4.5},{"g":"Mr45","day":127,"depth":4.5},
{"g":"Mr5","day":132.7,"depth":4.23},{"g":"Mr5","day":130.1,"depth":3.99},{"g":"Mr5","day":132.1,"depth":3.79},{"g":"Mr5","day":137.7,"depth":3.72},{"g":"Mr5","day":142.7,"depth":3.83},{"g":"Mr5","day":143.9,"depth":3.99},{"g":"Mr5","day":142.1,"depth":4.23},{"g":"Mr5","day":142,"depth":4.5},{"g":"Mr5","day":133,"depth":4.5},
{"g":"Mr55","day":133.4,"depth":3.99},{"g":"Mr55","day":137.7,"depth":3.87},{"g":"Mr55","day":141,"depth":3.96},{"g":"Mr55","day":141,"depth":4.06},{"g":"Mr55","day":137.7,"depth":4.12},{"g":"Mr55","day":134.3,"depth":4.06}
],
"snow1":[
{"edge":"top","day":5.1,"depth":0},{"edge":"top","day":7.9,"depth":-0.02},{"edge":"top","day":14.6,"depth":-0.055},{"edge":"top","day":42.3,"depth":-0.08},{"edge":"top","day":64.6,"depth":-0.22},{"edge":"top","day":89,"depth":-0.355},{"edge":"top","day":104,"depth":-0.38},{"edge":"top","day":111.2,"depth":-0.29},{"edge":"top","day":123.7,"depth":-0.22},{"edge":"top","day":137.9,"depth":-0.355},{"edge":"top","day":151.8,"depth":-0.19},{"edge":"top","day":166.8,"depth":-0.22},{"edge":"top","day":181.2,"depth":-0.21},{"edge":"top","day":194.8,"depth":-0.315},{"edge":"top","day":208.8,"depth":-0.3},{"edge":"top","day":216,"depth":-0.065},{"edge":"top","day":221.8,"depth":-0.03},{"edge":"top","day":229.7,"depth":-0.005},{"edge":"top","day":247.9,"depth":0},
{"edge":"bottom","day":5.1,"depth":0},{"edge":"bottom","day":7.3,"depth":0.11},{"edge":"bottom","day":14,"depth":0.255},{"edge":"bottom","day":55.7,"depth":0.38},{"edge":"bottom","day":89,"depth":0.48},{"edge":"bottom","day":115.7,"depth":0.54},{"edge":"bottom","day":124,"depth":0.56},{"edge":"bottom","day":137.9,"depth":0.97},{"edge":"bottom","day":151.8,"depth":0.99},{"edge":"bottom","day":166.8,"depth":1.405},{"edge":"bottom","day":181.2,"depth":1.46},{"edge":"bottom","day":194.8,"depth":1.62},{"edge":"bottom","day":208.8,"depth":1.6},{"edge":"bottom","day":221.8,"depth":0.47},{"edge":"bottom","day":229.7,"depth":0.44},{"edge":"bottom","day":236.2,"depth":0.345},{"edge":"bottom","day":247.9,"depth":0}
],
"snow2":[
{"edge":"top","day":9.1,"depth":0},{"edge":"top","day":18.8,"depth":-0.09},{"edge":"top","day":46.8,"depth":-0.36},{"edge":"top","day":85.4,"depth":-0.28},{"edge":"top","day":109.9,"depth":-0.25},{"edge":"top","day":138.8,"depth":-0.31},{"edge":"top","day":150.8,"depth":-0.09},{"edge":"top","day":178.8,"depth":-0.24},{"edge":"top","day":186.6,"depth":-0.15},{"edge":"top","day":199.7,"depth":-0.07},{"edge":"top","day":219.7,"depth":-0.06},{"edge":"top","day":232.7,"depth":0},
{"edge":"bottom","day":9.1,"depth":0},{"edge":"bottom","day":18.8,"depth":0},{"edge":"bottom","day":46.8,"depth":0.29},{"edge":"bottom","day":87.7,"depth":0.72},{"edge":"bottom","day":109.9,"depth":0.63},{"edge":"bottom","day":114.3,"depth":0.68},{"edge":"bottom","day":138.8,"depth":0.86},{"edge":"bottom","day":150.8,"depth":1.13},{"edge":"bottom","day":178.8,"depth":0.9},{"edge":"bottom","day":186.8,"depth":1.26},{"edge":"bottom","day":199.7,"depth":0.41},{"edge":"bottom","day":204.6,"depth":0.25},{"edge":"bottom","day":219.7,"depth":0.2},{"edge":"bottom","day":232.7,"depth":0}
],
"open1":[{"day":12,"depth":0.5},{"day":12,"depth":4},{"day":42,"depth":0.5},{"day":42,"depth":4},{"day":75,"depth":0.5},{"day":75,"depth":4},{"day":89,"depth":0.1},{"day":104.7,"depth":0.05},{"day":104.7,"depth":0.2},{"day":116.7,"depth":0.05},{"day":116.7,"depth":0.6},{"day":89,"depth":1},{"day":104.7,"depth":1},{"day":116.7,"depth":1},{"day":123.9,"depth":1},{"day":104.7,"depth":4},{"day":123.9,"depth":4},{"day":152.3,"depth":1.5}],
"solid1":[{"day":137.9,"depth":0.1},{"day":137.9,"depth":0.3},{"day":152.3,"depth":0.1},{"day":152.3,"depth":0.45},{"day":152.3,"depth":0.6},{"day":166.8,"depth":0.1},{"day":166.8,"depth":0.55},{"day":166.8,"depth":1},{"day":180.8,"depth":0.5},{"day":180.8,"depth":0.7},{"day":180.8,"depth":1.1},{"day":194.6,"depth":0},{"day":194.6,"depth":0.1},{"day":194.6,"depth":0.2},{"day":194.6,"depth":0.5},{"day":194.6,"depth":0.7},{"day":194.6,"depth":1.1},{"day":208.7,"depth":0},{"day":215.6,"depth":0},{"day":221.7,"depth":0},{"day":229.6,"depth":0},{"day":235.6,"depth":0},{"day":215.6,"depth":0.3},{"day":221.7,"depth":0.37},{"day":208.7,"depth":0.5},{"day":215.6,"depth":0.55},{"day":215.6,"depth":0.7},{"day":208.7,"depth":0.77},{"day":208.7,"depth":0.85},{"day":221.7,"depth":1},{"day":229.6,"depth":1},{"day":235.6,"depth":0.5},{"day":243.6,"depth":0.5},{"day":137.9,"depth":1.5},{"day":166.8,"depth":2},{"day":180.8,"depth":2},{"day":208.7,"depth":2},{"day":208.7,"depth":3},{"day":152.3,"depth":4},{"day":180.8,"depth":4},{"day":194.6,"depth":4},{"day":235.6,"depth":4}],
"open2":[{"day":18.9,"depth":1},{"day":18.9,"depth":2},{"day":18.9,"depth":4},{"day":46.8,"depth":0.2},{"day":46.8,"depth":1},{"day":46.8,"depth":2},{"day":46.8,"depth":4},{"day":87.7,"depth":2},{"day":109.7,"depth":2},{"day":150.8,"depth":0.3},{"day":150.8,"depth":0.5},{"day":150.8,"depth":0.76},{"day":150.8,"depth":1.02},{"day":137.7,"depth":1},{"day":150.8,"depth":2},{"day":180.7,"depth":2},{"day":199.7,"depth":0},{"day":199.7,"depth":0.15},{"day":199.7,"depth":0.28},{"day":219.7,"depth":1},{"day":228.6,"depth":1},{"day":137.7,"depth":4},{"day":150.8,"depth":4},{"day":228.6,"depth":4}],
"solid2":[{"day":87.7,"depth":0.37},{"day":87.7,"depth":0.63},{"day":87.7,"depth":1},{"day":109.7,"depth":0.25},{"day":109.7,"depth":1},{"day":87.7,"depth":4},{"day":109.7,"depth":4},{"day":180.7,"depth":0.1},{"day":180.7,"depth":0.28},{"day":180.7,"depth":0.56},{"day":180.7,"depth":0.82},{"day":180.7,"depth":1.5},{"day":219.7,"depth":0.1},{"day":180.7,"depth":4},{"day":219.7,"depth":4}],
"labels1":[{"value":"4","day":51,"depth":0.95,"rot":100},{"value":"3","day":85.7,"depth":0.73,"rot":90},{"value":"3","day":134.3,"depth":1.91,"rot":-10},{"value":"4","day":175.7,"depth":0.86,"rot":100},{"value":"3","day":201,"depth":0.76,"rot":-20},{"value":"4","day":26,"depth":2.42,"rot":0},{"value":"4","day":152.9,"depth":2.51,"rot":100},{"value":"2","day":200.7,"depth":2.505,"rot":50},{"value":"3","day":191.4,"depth":2.98,"rot":60}],
"labels1large":[{"value":"5","day":191.6,"depth":0.715,"rot":0},{"value":"2","day":222.9,"depth":0.695,"rot":-10},{"value":"1","day":224,"depth":0.88,"rot":0}],
"labels2":[{"value":"5","day":71,"depth":0.74,"rot":90},{"value":"4","day":96,"depth":0.78,"rot":90},{"value":"4","day":184.3,"depth":0.7,"rot":0},{"value":"3","day":160.9,"depth":1.04,"rot":0},{"value":"4","day":223.3,"depth":0.94,"rot":-65},{"value":"5","day":79.9,"depth":2.49,"rot":20},{"value":"4","day":48.6,"depth":2.61,"rot":-10},{"value":"4","day":146.6,"depth":2.63,"rot":-60},{"value":"4","day":122.7,"depth":3.47,"rot":-90},{"value":"4","day":198.4,"depth":3.47,"rot":-90}],
"months1":[{"month":"Nov","day":14,"depth":4.415},{"month":"Dec","day":46.7,"depth":4.415},{"month":"Jan","day":73.3,"depth":4.415},{"month":"Feb","day":104.7,"depth":4.415},{"month":"Mar","day":133.3,"depth":4.415},{"month":"Apr","day":166,"depth":4.415},{"month":"May","day":193.7,"depth":4.415},{"month":"Jun","day":223.3,"depth":4.415}],
"months2":[{"month":"Nov","day":16,"depth":4.353},{"month":"Dec","day":48.6,"depth":4.353},{"month":"Jan","day":75.3,"depth":4.353},{"month":"Feb","day":106.6,"depth":4.353},{"month":"Mar","day":135.3,"depth":4.353},{"month":"Apr","day":167.7,"depth":4.353},{"month":"May","day":195.7,"depth":4.353},{"month":"Jun","day":225.3,"depth":4.353}],
"periods":[{"period":"Formation","day":3,"day2":71,"mid":36,"depth":4.82,"textDepth":4.67},{"period":"Growth","day":75.2,"day2":187.3,"mid":129.3,"depth":4.82,"textDepth":4.67},{"period":"Ablation","day":189.3,"day2":236.9,"mid":212.1,"depth":4.82,"textDepth":4.67}],
"cells":[{"band":0,"end":0.5},{"band":0.5,"end":1},{"band":1,"end":1.5},{"band":1.5,"end":2},{"band":2,"end":2.5},{"band":2.5,"end":3},{"band":3,"end":3.5},{"band":3.5,"end":4},{"band":4,"end":4.5},{"band":4.5,"end":5},{"band":5,"end":5.5},{"band":5.5,"end":6},{"band":6,"end":6.5},{"band":6.5,"end":7},{"band":7,"end":7.5},{"band":7.5,"end":8},{"band":8,"end":8.5}]
},
"vconcat":[
{"width":744,"height":50.5,
"layer":[
{"data":{"name":"cells"},"mark":{"type":"rect","stroke":"#444","strokeWidth":0.7},
"encoding":{"x":{"field":"band","type":"quantitative","scale":{"domain":[-4.241,8.5],"nice":false,"zero":false},"axis":null},"x2":{"field":"end"},"y":{"datum":55,"type":"quantitative","scale":{"domain":[0,50.5],"reverse":true,"nice":false},"axis":null},"y2":{"datum":87},
"fill":{"field":"band","type":"ordinal","legend":null,"scale":{"domain":[0,0.5,1,1.5,2,2.5,3,3.5,4,4.5,5,5.5,6,6.5,7,7.5,8],"range":["#e6e7e8","#dcddde","#d0d2d3","#c1c3c5","#b4b5b8","#a8a9ac","#9b9c9f","#909194","#87888b","#7e7f82","#747578","#67686b","#5c5d5f","#4e4f51","#414244","#323233","#231f20"]}}}},
{"data":{"values":[{"at":1,"label":"1"},{"at":2,"label":"2"},{"at":3,"label":"3"},{"at":4,"label":"4"},{"at":5,"label":"5"},{"at":6,"label":"6"},{"at":7,"label":"7"},{"at":8,"label":"8"}]},
"mark":{"type":"text","fontSize":20,"color":"#231f20","baseline":"middle"},
"encoding":{"x":{"field":"at","type":"quantitative"},"y":{"datum":102,"type":"quantitative"},"text":{"field":"label"}}},
{"data":{"values":[{"at":0.03,"row":40,"label":"Bacterial Abundance"},{"at":4.49,"row":40,"label":"[cells ml"},{"at":6.15,"row":27,"label":"-1"},{"at":6.53,"row":40,"label":"x10"},{"at":7.21,"row":27,"label":"-6"},{"at":7.64,"row":40,"label":"]"}]},
"mark":{"type":"text","fontSize":26,"color":"#231f20","align":"left","baseline":"alphabetic"},
"encoding":{"x":{"field":"at","type":"quantitative"},"y":{"field":"row","type":"quantitative"},"text":{"field":"label"}}}
]},
{"width":744,"height":480,
"encoding":{
"x":{"field":"day","type":"quantitative","scale":{"domain":[0,248],"nice":false,"zero":false},"axis":{"domain":false,"grid":false,"labels":false,"title":null,"values":[0,30,60,90,120,150,180,210,240],"tickSize":9,"tickColor":"#555","tickWidth":1.2,"zindex":1}},
"y":{"field":"depth","type":"quantitative","scale":{"domain":[-0.6,4.2],"reverse":true,"nice":false,"zero":false},"axis":{"domain":false,"grid":false,"title":"depth [m]","titleFontSize":22,"titleFontWeight":"normal","titleColor":"#231f20","titleX":-51,"titleY":272,"titleBaseline":"middle","values":[0,0.5,1,1.5,2,2.5,3,3.5,4],"labelExpr":"datum.value>0&&datum.value%1==0?''+datum.value:''","labelFontSize":22,"labelColor":"#231f20","labelPadding":6,"tickSize":6,"tickColor":"#555","tickWidth":1.2,"zindex":1}}},
"layer":[
{"data":{"name":"p1"},"transform":[{"lookup":"g","from":{"data":{"name":"regions"},"key":"g","fields":["band","contour"]}},{"window":[{"op":"row_number","as":"vertex"}]}],
"mark":{"type":"line","interpolate":"cardinal-closed","clip":true},
"encoding":{"order":{"field":"vertex","type":"quantitative"},"detail":{"field":"g"},
"fill":{"field":"band","type":"ordinal","legend":null,"scale":{"domain":[0,0.5,1,1.5,2,2.5,3,3.5,4,4.5,5,5.5,6,6.5,7,7.5,8],"range":["#e6e7e8","#dcddde","#d0d2d3","#c1c3c5","#b4b5b8","#a8a9ac","#9b9c9f","#909194","#87888b","#7e7f82","#747578","#67686b","#5c5d5f","#4e4f51","#414244","#323233","#231f20"]}},
"stroke":{"field":"contour","type":"ordinal","legend":null,"scale":{"domain":[1,1.5,2,2.5,3,3.5,4,4.5,5,5.5,6,6.5],"range":["#1c1c1c","#c6c7c9","#1c1c1c","#c6c7c9","#1c1c1c","#c6c7c9","#1c1c1c","#c6c7c9","#1c1c1c","#c6c7c9","#1c1c1c","#c6c7c9"]}},
"strokeWidth":{"field":"contour","type":"ordinal","legend":null,"scale":{"domain":[1,1.5,2,2.5,3,3.5,4,4.5,5,5.5,6,6.5],"range":[0.9,0.5,0.9,0.5,0.9,0.5,0.9,0.5,0.9,0.5,0.9,0.5]}}}},
{"data":{"values":[{"day":0,"day2":248,"depth":-0.6,"depth2":0}]},"mark":{"type":"rect","fill":"white"},"encoding":{"x2":{"field":"day2"},"y2":{"field":"depth2"}}},
{"data":{"values":[{"day":0,"day2":0,"depth":0,"depth2":4.2},{"day":0,"day2":248,"depth":4.2,"depth2":4.2}]},"mark":{"type":"rule","color":"#3a3a3a","strokeWidth":1.2},"encoding":{"x2":{"field":"day2"},"y2":{"field":"depth2"}}},
{"data":{"name":"labels1"},"mark":{"type":"text","fontSize":18,"fontWeight":"bold","color":"#2a2a2a"},"encoding":{"text":{"field":"value"},"angle":{"field":"rot","type":"quantitative","scale":null}}},
{"data":{"name":"labels1large"},"mark":{"type":"text","fontSize":22,"fontWeight":"bold","color":"#2a2a2a"},"encoding":{"text":{"field":"value"},"angle":{"field":"rot","type":"quantitative","scale":null}}},
{"data":{"name":"open1"},"mark":{"type":"point","shape":"circle","filled":false,"size":49,"stroke":"#2a2a2a","strokeWidth":0.9}},
{"data":{"name":"solid1"},"mark":{"type":"point","shape":"circle","filled":true,"size":64,"fill":"#231f20","opacity":1}},
{"data":{"name":"snow1"},"mark":{"type":"line","color":"#231f20","strokeWidth":3.2},"encoding":{"detail":{"field":"edge"}}},
{"data":{"name":"months1"},"mark":{"type":"text","fontSize":22,"color":"#231f20"},"encoding":{"text":{"field":"month"}}},
{"data":{"values":[{"label":"1996 - 1997","day":1,"depth":-0.445}]},"mark":{"type":"text","fontSize":23.5,"color":"#231f20","align":"left"},"encoding":{"text":{"field":"label"}}},
{"data":{"values":[{"label":"HWL","day":-0.7,"depth":-0.115}]},"mark":{"type":"text","fontSize":18,"color":"#231f20","align":"right"},"encoding":{"text":{"field":"label"}}}
]},
{"width":744,"height":480,
"encoding":{
"x":{"field":"day","type":"quantitative","scale":{"domain":[-1.333,246.667],"nice":false,"zero":false},"axis":{"domain":false,"grid":false,"labels":false,"title":null,"values":[0,30,60,90,120,150,180,210,240],"tickSize":9,"tickColor":"#555","tickWidth":1.2,"zindex":1}},
"y":{"field":"depth","type":"quantitative","scale":{"domain":[-0.6,4.2],"reverse":true,"nice":false,"zero":false},"axis":{"domain":false,"grid":false,"offset":-4,"title":"depth [m]","titleFontSize":22,"titleFontWeight":"normal","titleColor":"#231f20","titleX":-53,"titleY":271,"titleBaseline":"middle","values":[0,0.5,1,1.5,2,2.5,3,3.5,4],"labelExpr":"datum.value>0&&datum.value%1==0?''+datum.value:''","labelFontSize":22,"labelColor":"#231f20","labelPadding":6,"tickSize":6,"tickColor":"#555","tickWidth":1.2,"zindex":1}}},
"layer":[
{"data":{"name":"p2"},"transform":[{"lookup":"g","from":{"data":{"name":"regions"},"key":"g","fields":["band","contour"]}},{"window":[{"op":"row_number","as":"vertex"}]}],
"mark":{"type":"line","interpolate":"cardinal-closed","clip":true},
"encoding":{"order":{"field":"vertex","type":"quantitative"},"detail":{"field":"g"},
"fill":{"field":"band","type":"ordinal","legend":null,"scale":{"domain":[0,0.5,1,1.5,2,2.5,3,3.5,4,4.5,5,5.5,6,6.5,7,7.5,8],"range":["#e6e7e8","#dcddde","#d0d2d3","#c1c3c5","#b4b5b8","#a8a9ac","#9b9c9f","#909194","#87888b","#7e7f82","#747578","#67686b","#5c5d5f","#4e4f51","#414244","#323233","#231f20"]}},
"stroke":{"field":"contour","type":"ordinal","legend":null,"scale":{"domain":[1,1.5,2,2.5,3,3.5,4,4.5,5,5.5,6,6.5],"range":["#1c1c1c","#c6c7c9","#1c1c1c","#c6c7c9","#1c1c1c","#c6c7c9","#1c1c1c","#c6c7c9","#1c1c1c","#c6c7c9","#1c1c1c","#c6c7c9"]}},
"strokeWidth":{"field":"contour","type":"ordinal","legend":null,"scale":{"domain":[1,1.5,2,2.5,3,3.5,4,4.5,5,5.5,6,6.5],"range":[0.9,0.5,0.9,0.5,0.9,0.5,0.9,0.5,0.9,0.5,0.9,0.5]}}}},
{"data":{"values":[{"day":-1.333,"day2":246.667,"depth":-0.6,"depth2":0},{"day":-1.333,"day2":0,"depth":0,"depth2":4.2}]},"mark":{"type":"rect","fill":"white"},"encoding":{"x2":{"field":"day2"},"y2":{"field":"depth2"}}},
{"data":{"values":[{"day":166.8,"day2":166.8,"depth":1.77,"depth2":4.2},{"day":223.2,"day2":223.2,"depth":0.64,"depth2":0.99}]},"mark":{"type":"rule","color":"#f4f4f4","strokeWidth":1.1},"encoding":{"x2":{"field":"day2"},"y2":{"field":"depth2"}}},
{"data":{"values":[{"day":0,"day2":0,"depth":0,"depth2":4.2},{"day":0,"day2":246.667,"depth":4.2,"depth2":4.2}]},"mark":{"type":"rule","color":"#3a3a3a","strokeWidth":1.2},"encoding":{"x2":{"field":"day2"},"y2":{"field":"depth2"}}},
{"data":{"name":"labels2"},"mark":{"type":"text","fontSize":18,"fontWeight":"bold","color":"#2a2a2a"},"encoding":{"text":{"field":"value"},"angle":{"field":"rot","type":"quantitative","scale":null}}},
{"data":{"name":"open2"},"mark":{"type":"point","shape":"circle","filled":false,"size":49,"stroke":"#2a2a2a","strokeWidth":0.9}},
{"data":{"name":"solid2"},"mark":{"type":"point","shape":"circle","filled":true,"size":64,"fill":"#231f20","opacity":1}},
{"data":{"name":"snow2"},"mark":{"type":"line","color":"#231f20","strokeWidth":3.2},"encoding":{"detail":{"field":"edge"}}},
{"data":{"name":"months2"},"mark":{"type":"text","fontSize":22,"color":"#231f20"},"encoding":{"text":{"field":"month"}}},
{"data":{"values":[{"label":"1997 - 1998","day":-0.3,"depth":-0.43}]},"mark":{"type":"text","fontSize":23.5,"color":"#231f20","align":"left"},"encoding":{"text":{"field":"label"}}},
{"data":{"values":[{"label":"HWL","day":-0.33,"depth":-0.115}]},"mark":{"type":"text","fontSize":18,"color":"#231f20","align":"right"},"encoding":{"text":{"field":"label"}}},
{"data":{"name":"periods"},"mark":{"type":"rule","color":"#231f20","strokeWidth":1},"encoding":{"x2":{"field":"day2"}}},
{"data":{"name":"periods"},"mark":{"type":"point","shape":"M0,0 L2,-1 L1.3,0 L2,1 Z","filled":true,"size":289,"fill":"#231f20","opacity":1,"strokeWidth":0}},
{"data":{"name":"periods"},"mark":{"type":"point","shape":"M0,0 L-2,-1 L-1.3,0 L-2,1 Z","filled":true,"size":289,"fill":"#231f20","opacity":1,"strokeWidth":0},"encoding":{"x":{"field":"day2"}}},
{"data":{"name":"periods"},"mark":{"type":"text","fontSize":22,"color":"#231f20"},"encoding":{"x":{"field":"mid"},"y":{"field":"textDepth"},"text":{"field":"period"}}},
{"data":{"values":[{"label":"C o v e r \u00a0\u00a0 P e r i o d s","day":127.3,"depth":5.13}]},"mark":{"type":"text","fontSize":25.5,"color":"#231f20"},"encoding":{"text":{"field":"label"}}}
]}
]
}
